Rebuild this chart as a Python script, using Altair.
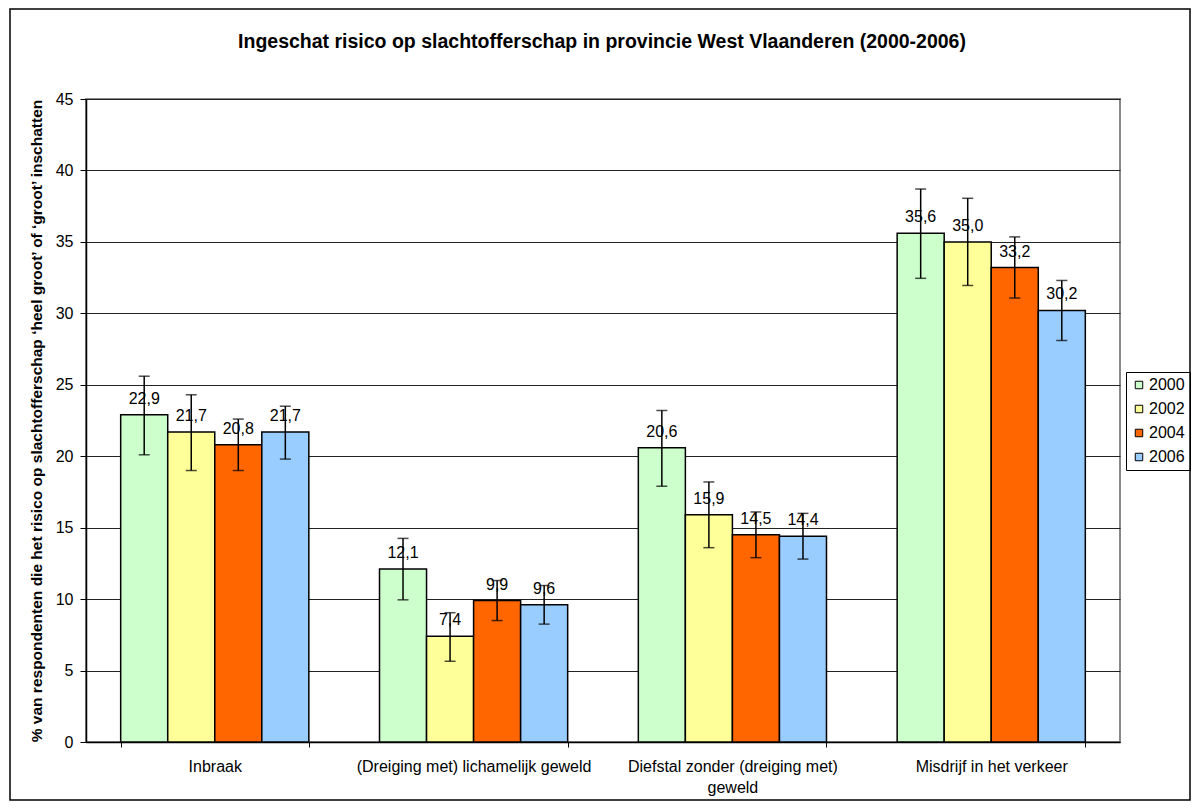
import altair as alt
import pandas as pd

title_text = "Ingeschat risico op slachtofferschap in provincie West Vlaanderen (2000-2006)"
y_title = "% van respondenten die het risico op slachtofferschap \u2018heel groot\u2019 of \u2018groot\u2019 inschatten"

categories = ["Inbraak", "(Dreiging met) lichamelijk geweld",
              "Diefstal zonder (dreiging met) geweld", "Misdrijf in het verkeer"]
years = ["2000", "2002", "2004", "2006"]
colors = ["#CCFFCC", "#FFFF99", "#FF6600", "#99CCFF"]

values = {
    "2000": [22.9, 12.1, 20.6, 35.6],
    "2002": [21.7, 7.4, 15.9, 35.0],
    "2004": [20.8, 9.9, 14.5, 33.2],
    "2006": [21.7, 9.6, 14.4, 30.2],
}
err_low = {
    "2000": [20.1, 9.95, 17.9, 32.45],
    "2002": [19.0, 5.65, 13.6, 31.95],
    "2004": [19.0, 8.5, 12.9, 31.07],
    "2006": [19.8, 8.25, 12.8, 28.1],
}
err_high = {
    "2000": [25.6, 14.25, 23.2, 38.7],
    "2002": [24.3, 9.05, 18.2, 38.05],
    "2004": [22.6, 11.3, 16.1, 35.35],
    "2006": [23.5, 10.95, 16.0, 32.3],
}

rows = []
for y in years:
    for i, c in enumerate(categories):
        v = values[y][i]
        rows.append({"cat": c, "year": y, "value": v,
                     "lo": err_low[y][i], "hi": err_high[y][i],
                     "label": f"{v:.1f}".replace(".", ",")})
df = pd.DataFrame(rows)

FONT = "Liberation Sans"

x_enc = alt.X("cat:N", sort=categories, title=None,
              scale=alt.Scale(paddingInner=0.273, paddingOuter=0.134),
              axis=alt.Axis(labelAngle=0, labelFontSize=16, labelColor="#000",
                            labelPadding=11, tickSize=5, tickColor="#000",
                            tickBand="extent", domainColor="#000",
                            domainWidth=1.5, labelLineHeight=21, labelLimit=0,
                            labelExpr="datum.label == 'Diefstal zonder (dreiging met) geweld' ? ['Diefstal zonder (dreiging met)', 'geweld'] : datum.label"))
xo = alt.XOffset("year:N", sort=years)
y_scale = alt.Scale(domain=[0, 45], nice=False)

base = alt.Chart(df)

bars = base.mark_bar(stroke="#000", strokeWidth=1.5).encode(
    x=x_enc, xOffset=xo,
    y=alt.Y("value:Q", scale=y_scale, title=y_title,
            axis=alt.Axis(values=list(range(0, 46, 5)), labelFontSize=16,
                          labelColor="#000", tickSize=6, tickColor="#000",
                          labelPadding=7,
                          domainColor="#000", domainWidth=1.5,
                          gridColor="#222", gridWidth=1,
                          titleFontSize=15.5, titleFontWeight="bold",
                          titleColor="#000", titlePadding=11)),
    color=alt.Color("year:N", sort=years,
                    scale=alt.Scale(domain=years, range=colors),
                    legend=alt.Legend(title=None, orient="none",
                                      legendX=1040, legendY=273,
                                      strokeColor="#000", padding=5,
                                      symbolType="square", symbolSize=56,
                                      symbolStrokeColor="#000",
                                      symbolStrokeWidth=1,
                                      labelFontSize=16, labelColor="#000",
                                      labelOffset=2,
                                      rowPadding=8)),
)

rules = base.mark_rule(color="#000", strokeWidth=1.5).encode(
    x=x_enc, xOffset=xo, y=alt.Y("lo:Q", scale=y_scale), y2="hi:Q")
cap_lo = base.mark_tick(color="#000", size=11, thickness=1.5).encode(
    x=x_enc, xOffset=xo, y=alt.Y("lo:Q", scale=y_scale))
cap_hi = base.mark_tick(color="#000", size=11, thickness=1.5).encode(
    x=x_enc, xOffset=xo, y=alt.Y("hi:Q", scale=y_scale))

labels = base.mark_text(fontSize=16, dy=-11, baseline="alphabetic",
                        color="#000", font=FONT).encode(
    x=x_enc, xOffset=xo, y=alt.Y("value:Q", scale=y_scale), text="label:N")

deco = pd.DataFrame({"t": [title_text]})
border = alt.Chart(deco).mark_rect(
    fill=None, stroke="#000", strokeWidth=1.5).encode(
    x=alt.value(-76), x2=alt.value(1104), y=alt.value(-90), y2=alt.value(701))
title = alt.Chart(deco).mark_text(
    fontSize=19.5, fontWeight="bold", font=FONT, color="#000",
    align="center", baseline="middle").encode(
    x=alt.value(516), y=alt.value(-57), text="t:N")

chart = alt.layer(bars, rules, cap_lo, cap_hi, labels, border, title).properties(
    width=1034, height=643,
    autosize=alt.AutoSizeParams(type="none"),
    padding={"left": 78, "top": 91, "right": 72, "bottom": 59},
).configure(font=FONT).configure_view(stroke="#888", strokeWidth=2)

chart.save("out.html", embed_options={"renderer": "svg", "actions": False})
